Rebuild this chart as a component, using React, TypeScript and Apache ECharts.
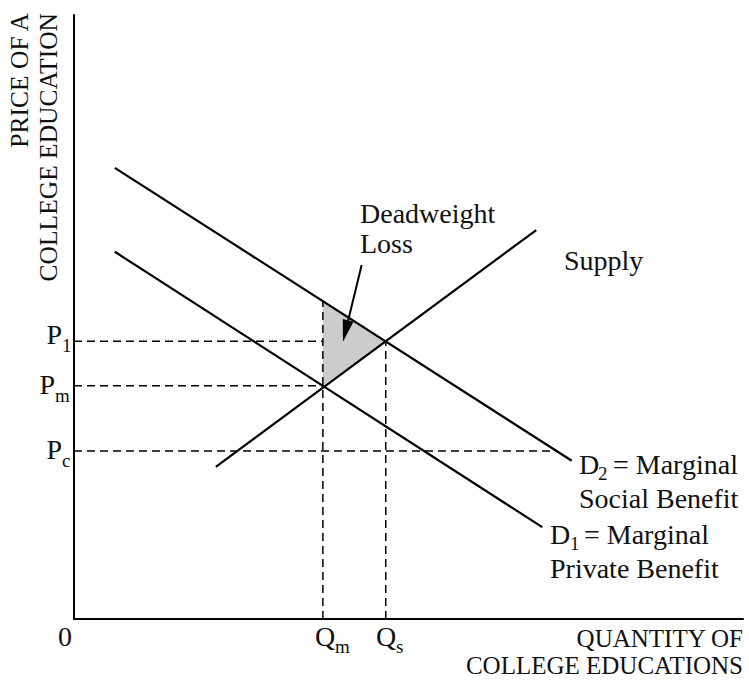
import React, { useEffect, useRef } from "react";
import * as echarts from "echarts";

// Economic quantities (arbitrary units, 0..100 on both axes)
const qm = 37.2;
const qs = 46.6;
const pm = 38.6;
const p1 = 46.0;
const pc = 27.8;
const d2AtQm = 52.6;
const d2AtPc = 72.2;

const demandSocial: number[][] = [[6.1, 74.7], [74.4, 26.2]];
const demandPrivate: number[][] = [[6.1, 60.8], [70.0, 15.2]];
const supply: number[][] = [[21.2, 25.2], [69.1, 64.4]];
const deadweight: number[][] = [[qm, d2AtQm], [qs, p1], [qm, pm]];
const arrowPts: number[][] = [[43.0, 58.6], [40.2, 45.9]];

const dashP1: number[][] = [[0, p1], [qm, p1]];
const dashPm: number[][] = [[0, pm], [qm, pm]];
const dashPc: number[][] = [[0, pc], [d2AtPc, pc]];
const dashQm: number[][] = [[qm, 0], [qm, d2AtQm]];
const dashQs: number[][] = [[qs, 0], [qs, p1]];

const FONT = '"Liberation Serif", "Times New Roman", Times, serif';

export default function App() {
  const ref = useRef<HTMLDivElement>(null);
  useEffect(() => {
    if (!ref.current) return;
    const chart = echarts.init(ref.current, undefined, { renderer: "svg" });
    const solid = (data: number[][]) => ({
      type: "line",
      data,
      symbol: "none",
      silent: true,
      z: 3,
      lineStyle: { color: "#000", width: 2.2 },
    });
    const dashed = (data: number[][]) => ({
      type: "line",
      data,
      symbol: "none",
      silent: true,
      z: 2,
      lineStyle: { color: "#000", width: 1.5, type: [8, 5] },
    });
    const txt = (text: string, x: number, y: number, size: number, align = "left", extra: any = {}) => ({
      type: "text",
      x,
      y,
      silent: true,
      style: {
        text,
        fill: "#111",
        font: `${size}px ${FONT}`,
        align,
        verticalAlign: "middle",
      },
      ...extra,
    });
    chart.setOption({
      animation: false,
      grid: { left: 74, top: 15, right: 6, bottom: 61, containLabel: false },
      xAxis: {
        type: "value",
        min: 0,
        max: 100,
        axisLine: { show: true, lineStyle: { color: "#000", width: 2 } },
        axisTick: { show: false },
        axisLabel: { show: false },
        splitLine: { show: false },
      },
      yAxis: {
        type: "value",
        min: 0,
        max: 100,
        axisLine: { show: true, lineStyle: { color: "#000", width: 2 } },
        axisTick: { show: false },
        axisLabel: { show: false },
        splitLine: { show: false },
      },
      series: [
        {
          type: "custom",
          z: 1,
          silent: true,
          data: deadweight,
          renderItem: (params: any, api: any) => {
            if (params.dataIndex !== 0) return null;
            const points = deadweight.map((p) => api.coord(p));
            return { type: "polygon", shape: { points }, style: { fill: "#cccccc" } };
          },
        },
        dashed(dashP1),
        dashed(dashPm),
        dashed(dashPc),
        dashed(dashQm),
        dashed(dashQs),
        solid(demandSocial),
        solid(demandPrivate),
        solid(supply),
        {
          type: "custom",
          z: 4,
          silent: true,
          data: arrowPts,
          renderItem: (params: any, api: any) => {
            if (params.dataIndex !== 0) return null;
            const a = api.coord(arrowPts[0]);
            const b = api.coord(arrowPts[1]);
            const dx = b[0] - a[0];
            const dy = b[1] - a[1];
            const len = Math.sqrt(dx * dx + dy * dy);
            const ux = dx / len;
            const uy = dy / len;
            const headLen = 22;
            const halfW = 5.5;
            const base = [b[0] - ux * headLen, b[1] - uy * headLen];
            const left = [base[0] - uy * halfW, base[1] + ux * halfW];
            const right = [base[0] + uy * halfW, base[1] - ux * halfW];
            return {
              type: "group",
              children: [
                {
                  type: "line",
                  shape: { x1: a[0], y1: a[1], x2: base[0], y2: base[1] },
                  style: { stroke: "#000", lineWidth: 2 },
                },
                {
                  type: "polygon",
                  shape: { points: [b, left, right] },
                  style: { fill: "#000" },
                },
              ],
            };
          },
        },
      ],
      graphic: [
        // y axis title (rotated)
        txt("PRICE OF A", 19, 13, 25.5, "right", { rotation: Math.PI / 2 }),
        txt("COLLEGE EDUCATION", 48, 13, 25.5, "right", { rotation: Math.PI / 2 }),
        // x axis title
        txt("QUANTITY OF", 743, 638, 25, "right"),
        txt("COLLEGE EDUCATIONS", 743, 665, 25, "right"),
        // origin
        txt("0", 65, 636, 28, "center"),
        // Q labels
        txt("Q", 315, 636, 28, "left"),
        txt("m", 335, 646, 19, "left"),
        txt("Q", 376, 636, 28, "left"),
        txt("s", 396, 646, 19, "left"),
        // P labels
        txt("P", 62, 334, 28, "right"),
        txt("1", 62, 345, 19, "left"),
        txt("P", 55, 384, 28, "right"),
        txt("m", 55, 395, 19, "left"),
        txt("P", 62, 449, 28, "right"),
        txt("c", 62, 460, 19, "left"),
        // annotations
        txt("Deadweight", 360, 213, 28, "left"),
        txt("Loss", 360, 243, 28, "left"),
        txt("Supply", 564, 260, 28, "left"),
        txt("D", 579, 464, 28, "left"),
        txt("2", 598, 473, 19, "left"),
        txt("= Marginal", 613, 464, 28, "left"),
        txt("Social Benefit", 579, 498, 28, "left"),
        txt("D", 550, 534, 28, "left"),
        txt("1", 570, 543, 19, "left"),
        txt("= Marginal", 584, 534, 28, "left"),
        txt("Private Benefit", 550, 568, 28, "left"),
      ],
    });
    return () => chart.dispose();
  }, []);
  return <div ref={ref} style={{ width: 749, height: 680, position: "absolute", left: 0, top: 0 }} />;
}
